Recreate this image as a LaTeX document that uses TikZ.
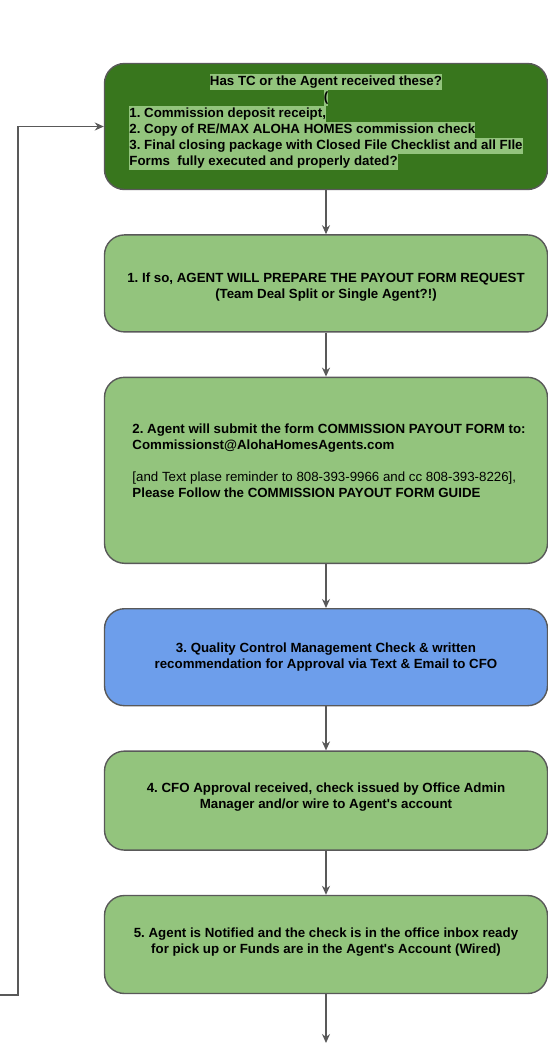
\documentclass[tikz,border=0pt]{standalone}
\usepackage{fontspec}
\setmainfont{Liberation Sans}
\usepackage{tikz}
\usetikzlibrary{arrows.meta, positioning}

\definecolor{darkgreen}{HTML}{38761D}
\definecolor{lightgreen}{HTML}{93C47D}
\definecolor{skyblue}{HTML}{6D9EEB}
\definecolor{edgegray}{HTML}{595959}

\frenchspacing
\setlength{\fboxsep}{0pt}
\newcommand{\hlline}[1]{\colorbox{lightgreen}{\rule[-4.8pt]{0pt}{16pt}#1}}
% shift the text block inside its box, keeping the box size
\newcommand{\steptext}[2]{\raisebox{#1}[\height][\depth]{\begin{tabular}{@{}c@{}}#2\end{tabular}}}

\begin{document}
\begin{tikzpicture}[
            x=1pt, y=-1pt,
            node distance=44pt,
            font=\fontsize{13.3}{16}\selectfont\bfseries, % bold sans like the original
            stepbox/.style={
                draw=edgegray,
                line width=1.4pt,
                rounded corners=20pt,
                fill=lightgreen,
                minimum width=443pt,
                inner sep=0pt,
                align=center
            },
            every edge/.style={
                draw=edgegray,
                line width=1.4pt,
                -{Stealth[length=9pt, width=8pt]} % classic arrow head
            }
        ]
        \useasboundingbox (0,0) rectangle (548,1045);

        \node[stepbox, fill=darkgreen, minimum height=126pt] (q) at (326,126.5) {%
            \raisebox{-3.5pt}[\height][\depth]{\begin{tabular}{@{}l@{}}
            \multicolumn{1}{@{}c@{}}{\hlline{Has TC or the Agent received these?}}\\
            \multicolumn{1}{@{}c@{}}{\hlline{(}}\\
            \hlline{1. Commission deposit receipt,}\\
            \hlline{2. Copy of RE/MAX ALOHA HOMES commission check}\\
            \hlline{3. Final closing package with Closed File Checklist and all FIle}\\
            \hlline{Forms\ \ fully executed and properly dated?}\\
            \mbox{}
            \end{tabular}}};
        \node[stepbox, minimum height=97pt] (s1) [below=of q]
            {\steptext{-4pt}{1. If so, AGENT WILL PREPARE THE PAYOUT FORM REQUEST\\(Team Deal Split or Single Agent?!)}};
        \node[stepbox, minimum height=186pt] (s2) [below=of s1] {%
            \hspace*{6pt}\begin{tabular}{@{}l@{}}
            2. Agent will submit the form COMMISSION PAYOUT FORM to:\\
            Commissionst@AlohaHomesAgents.com\\
            \mbox{}\\
            {\mdseries [and Text plase reminder to 808-393-9966 and cc 808-393-8226],}\\
            Please Follow the COMMISSION PAYOUT FORM GUIDE\\
            \mbox{}
            \end{tabular}};
        \node[stepbox, fill=skyblue, minimum height=97pt] (s3) [below=of s2]
            {\steptext{0pt}{3. Quality Control Management Check \& written\\recommendation for Approval via Text \& Email to CFO}};
        \node[stepbox, minimum height=99pt] (s4) [below=of s3]
            {\steptext{3pt}{4. CFO Approval received, check issued by Office Admin\\Manager and/or wire to Agent\textquotesingle s account}};
        \node[stepbox, minimum height=98pt] (s5) [below=of s4]
            {\steptext{2.5pt}{5. Agent is Notified and the check is in the office inbox ready\\for pick up or Funds are in the Agent\textquotesingle s Account (Wired)}};

        \coordinate (out) at (326,1043);
        \coordinate (back) at (0,995);

        \path
            (q) edge (s1)
            (s1) edge (s2)
            (s2) edge (s3)
            (s3) edge (s4)
            (s4) edge (s5)
            (s5) edge (out);
        % loop coming back in from the left
        \draw[edgegray, line width=1.4pt, -{Stealth[length=9pt, width=8pt]}]
            (back) -- ++(18,0) |- (q.west);
    \end{tikzpicture}
\end{document}
